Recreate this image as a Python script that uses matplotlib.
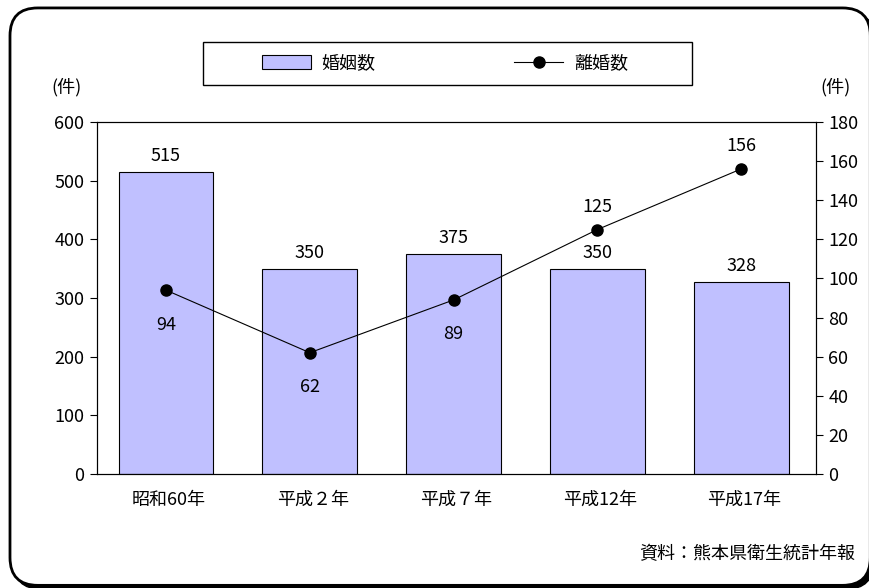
import numpy as np
import matplotlib.pyplot as plt
from matplotlib.patches import FancyBboxPatch, Rectangle, Patch
from matplotlib.lines import Line2D

plt.rcParams['font.family'] = ['Noto Sans CJK JP', 'DejaVu Sans']

years = ['昭和60年', '平成２年', '平成７年', '平成12年', '平成17年']
marriages = [515, 350, 375, 350, 328]
divorces = [94, 62, 89, 125, 156]
# label above (True) or below (False) each divorce point
div_label_above = [False, False, False, True, True]

FS = 13
BAR_COLOR = '#C0C0FF'

fig = plt.figure(figsize=(8.69, 5.88), dpi=100)
aspect = 869 / 588

# rounded outer frame with a dark shadow at the lower right
shadow = FancyBboxPatch((0.0155, -0.002), 0.99, 0.983,
                        boxstyle='round,pad=0,rounding_size=0.032',
                        transform=fig.transFigure, fc='black', ec='black',
                        mutation_aspect=aspect, zorder=0)
frame = FancyBboxPatch((0.0115, 0.0045), 0.99, 0.982,
                       boxstyle='round,pad=0,rounding_size=0.032',
                       transform=fig.transFigure, fc='white', ec='black',
                       lw=2, mutation_aspect=aspect, zorder=1)
fig.patches.extend([shadow, frame])

ax = fig.add_axes([0.1116, 0.194, 0.8274, 0.5985])
ax.set_zorder(2)
ax.patch.set_alpha(0)
x = np.arange(len(years))
bars = ax.bar(x - 0.02, marriages, width=0.66, color=BAR_COLOR,
              edgecolor='black', linewidth=0.8)
ax.set_xlim(-0.5, len(years) - 0.5)
ax.set_ylim(0, 600)
ax.set_yticks(range(0, 601, 100))
ax.set_xticks(x)
ax.set_xticklabels(years, fontsize=FS)
ax.tick_params(axis='x', length=0, pad=12)
ax.tick_params(axis='y', labelsize=FS, length=5, direction='out', pad=4)
for b, v in zip(bars, marriages):
    ax.text(b.get_x() + b.get_width() / 2, v + 12, str(v), ha='center',
            va='bottom', fontsize=FS)
for s in ax.spines.values():
    s.set_linewidth(0.8)

ax2 = ax.twinx()
ax2.set_zorder(3)
ax2.plot(x - 0.02, divorces, color='black', lw=0.8, marker='o', markersize=8)
ax2.set_ylim(0, 180)
ax2.set_yticks(range(0, 181, 20))
ax2.tick_params(axis='y', labelsize=FS, length=5, direction='out', pad=4)
for xi, v, up in zip(x - 0.02, divorces, div_label_above):
    off = 7 if up else -13
    ax2.text(xi, v + off, str(v), ha='center', va='bottom' if up else 'top',
             fontsize=FS)

fig.text(0.077, 0.852, '(件)', ha='center', va='center', fontsize=FS)
fig.text(0.962, 0.852, '(件)', ha='center', va='center', fontsize=FS)
fig.text(0.984, 0.057, '資料：熊本県衛生統計年報', ha='right', va='center',
         fontsize=FS)

# legend box
fig.patches.append(Rectangle((0.2336, 0.8554), 0.5627, 0.0731,
                             transform=fig.transFigure, fc='white',
                             ec='black', lw=1.0, zorder=4))
handles = [Patch(facecolor=BAR_COLOR, edgecolor='black', lw=0.8),
           Line2D([], [], color='black', lw=0.8, marker='o', markersize=8)]
leg = fig.legend(handles, ['婚姻数', '離婚数'], ncol=2, loc='center',
                 bbox_to_anchor=(0.512, 0.892), fontsize=FS, frameon=False,
                 handlelength=2.7, handleheight=0.8, handletextpad=0.6,
                 columnspacing=7.7)
leg.set_zorder(5)

fig.savefig('out.png', dpi=100)
